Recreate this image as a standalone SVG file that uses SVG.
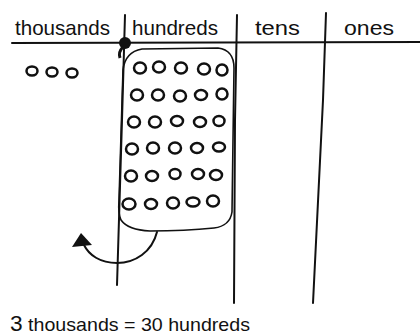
<svg xmlns="http://www.w3.org/2000/svg" width="420" height="335" viewBox="0 0 420 335">
<style>
.ln{fill:none;stroke:#111;stroke-width:2;stroke-linecap:round;stroke-linejoin:round}
.dot{fill:none;stroke:#111;stroke-width:2.5}
.box{fill:none;stroke:#111;stroke-width:1.6}
.hd{font-family:"Liberation Sans",Arial,sans-serif;font-size:21px;fill:#111}
.ft{font-family:"Liberation Sans",Arial,sans-serif;font-size:19px;fill:#111}
</style>
<rect width="420" height="335" fill="#fff"/>
<g id="grid">
<path class="ln" d="M12,43 L420,42"/>
<path class="ln" d="M125,15 L122,120 L117,285"/>
<path class="ln" d="M237,15 L235,120 L234,303"/>
<path class="ln" d="M326,13 L323,100 L313,303"/>
<circle cx="125" cy="43" r="6" fill="#111"/>
<path d="M123,47 Q118,52 120,58" fill="none" stroke="#111" stroke-width="3"/>
</g>
<g id="headers">
<text class="hd" x="15" y="35" textLength="95" lengthAdjust="spacingAndGlyphs">thousands</text>
<text class="hd" x="132" y="35" textLength="86" lengthAdjust="spacingAndGlyphs">hundreds</text>
<text class="hd" x="255" y="35" textLength="45" lengthAdjust="spacingAndGlyphs">tens</text>
<text class="hd" x="344" y="35" textLength="50" lengthAdjust="spacingAndGlyphs">ones</text>
</g>
<g id="thousands-dots">
<ellipse class="dot" cx="32" cy="71" rx="5.5" ry="4.5"/>
<ellipse class="dot" cx="52" cy="72" rx="5.5" ry="4.5"/>
<ellipse class="dot" cx="72" cy="73" rx="5.5" ry="4.5"/>
</g>
<g id="hundreds-group">
<path class="box" d="M142,49 L218,48 Q234,50 234,68 L232,212 Q230,226 214,228 Q185,231 150,231 Q128,230 121,220 Q118,214 119,200 L123,70 Q125,52 142,49 Z"/>
<g id="dots">
<ellipse class="dot" cx="140" cy="68" rx="6" ry="5.5"/>
<ellipse class="dot" cx="159" cy="67" rx="6" ry="5.5"/>
<ellipse class="dot" cx="181" cy="68" rx="6" ry="5.5"/>
<ellipse class="dot" cx="204" cy="69" rx="6" ry="5.5"/>
<ellipse class="dot" cx="222" cy="70" rx="5.5" ry="5.5"/>
<ellipse class="dot" cx="137" cy="95" rx="6" ry="5.5"/>
<ellipse class="dot" cx="158" cy="95" rx="6" ry="5.5"/>
<ellipse class="dot" cx="180" cy="96" rx="6" ry="5.5"/>
<ellipse class="dot" cx="201" cy="95" rx="6" ry="5"/>
<ellipse class="dot" cx="222" cy="94" rx="5.5" ry="5.5"/>
<ellipse class="dot" cx="134" cy="122" rx="6" ry="5.5"/>
<ellipse class="dot" cx="155" cy="122" rx="6" ry="5.5"/>
<ellipse class="dot" cx="177" cy="121" rx="6" ry="5"/>
<ellipse class="dot" cx="200" cy="122" rx="6" ry="5"/>
<ellipse class="dot" cx="219" cy="121" rx="5.5" ry="5"/>
<ellipse class="dot" cx="132" cy="149" rx="6" ry="5.5"/>
<ellipse class="dot" cx="153" cy="148" rx="6" ry="5.5"/>
<ellipse class="dot" cx="175" cy="148" rx="6" ry="5.5"/>
<ellipse class="dot" cx="197" cy="148" rx="6" ry="5"/>
<ellipse class="dot" cx="219" cy="147" rx="6" ry="4.5"/>
<ellipse class="dot" cx="131" cy="176" rx="6" ry="5.5"/>
<ellipse class="dot" cx="152" cy="176" rx="6" ry="5"/>
<ellipse class="dot" cx="175" cy="174" rx="5.5" ry="5"/>
<ellipse class="dot" cx="198" cy="174" rx="6" ry="5"/>
<ellipse class="dot" cx="216" cy="175" rx="6" ry="5"/>
<ellipse class="dot" cx="129" cy="204" rx="6.5" ry="5.5"/>
<ellipse class="dot" cx="151" cy="204" rx="6" ry="5"/>
<ellipse class="dot" cx="173" cy="203" rx="6" ry="5.5"/>
<ellipse class="dot" cx="193" cy="202" rx="6.5" ry="4.5"/>
<ellipse class="dot" cx="213" cy="201" rx="6" ry="5.5"/>
</g>
</g>
<g id="connectors">
<path class="ln" d="M157,232 C152,252 135,263 117,263 C100,263 89,255 84,245"/>
<polygon points="81,233 72,247 92,245" fill="#111"/>
</g>
<g id="caption">
<text class="ft" x="10" y="331" textLength="240" lengthAdjust="spacingAndGlyphs"><tspan font-size="22">3</tspan> thousands = 30 hundreds</text>
</g>
</svg>
